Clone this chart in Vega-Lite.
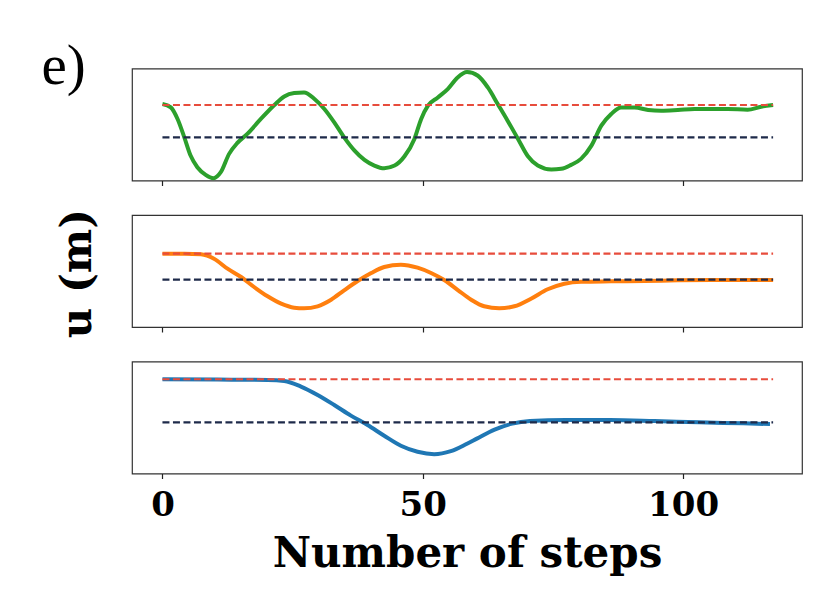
{
  "$schema": "https://vega.github.io/schema/vega-lite/v6.json",
  "background": "white",
  "padding": {"left": 40, "top": 36.5, "right": 30, "bottom": 10},
  "bounds": "flush",
  "spacing": 34.5,
  "config": {
    "view": {"stroke": "#333333", "strokeWidth": 1.2},
    "axis": {"grid": false, "domain": false, "tickColor": "#222222", "tickSize": 5, "tickWidth": 1.2}
  },
  "datasets": {
    "top": [
      {"step": 0, "u": 0.767}, {"step": 1.6, "u": 0.733}, {"step": 2.9, "u": 0.617}, {"step": 4.2, "u": 0.433},
      {"step": 5.4, "u": 0.25}, {"step": 6.7, "u": 0.133}, {"step": 8.3, "u": 0.057}, {"step": 9.8, "u": 0.023},
      {"step": 11.2, "u": 0.083}, {"step": 12.8, "u": 0.267}, {"step": 14.4, "u": 0.377}, {"step": 16.3, "u": 0.467},
      {"step": 18.9, "u": 0.617}, {"step": 21.5, "u": 0.757}, {"step": 23.4, "u": 0.843}, {"step": 25.3, "u": 0.877},
      {"step": 27.2, "u": 0.883}, {"step": 29.2, "u": 0.817}, {"step": 31.1, "u": 0.717}, {"step": 33.0, "u": 0.583},
      {"step": 34.9, "u": 0.433}, {"step": 36.9, "u": 0.3}, {"step": 38.8, "u": 0.207}, {"step": 40.7, "u": 0.15},
      {"step": 42.6, "u": 0.123}, {"step": 44.6, "u": 0.15}, {"step": 46.5, "u": 0.243}, {"step": 48.4, "u": 0.417},
      {"step": 49.7, "u": 0.617}, {"step": 51.0, "u": 0.75}, {"step": 52.9, "u": 0.833}, {"step": 54.8, "u": 0.917},
      {"step": 56.7, "u": 1.033}, {"step": 58.5, "u": 1.087}, {"step": 60.6, "u": 1.05}, {"step": 62.5, "u": 0.933},
      {"step": 64.4, "u": 0.767}, {"step": 66.3, "u": 0.6}, {"step": 68.3, "u": 0.417}, {"step": 70.2, "u": 0.243},
      {"step": 72.1, "u": 0.15}, {"step": 74.7, "u": 0.11}, {"step": 76.6, "u": 0.117}, {"step": 78.5, "u": 0.157},
      {"step": 80.4, "u": 0.217}, {"step": 82.4, "u": 0.35}, {"step": 84.3, "u": 0.55}, {"step": 86.2, "u": 0.667},
      {"step": 88.1, "u": 0.733}, {"step": 90.7, "u": 0.733}, {"step": 93.3, "u": 0.707}, {"step": 95.8, "u": 0.7},
      {"step": 99.0, "u": 0.707}, {"step": 102.2, "u": 0.717}, {"step": 105.4, "u": 0.717}, {"step": 108.6, "u": 0.717},
      {"step": 112.4, "u": 0.71}, {"step": 115.0, "u": 0.74}, {"step": 117.3, "u": 0.757}
    ],
    "mid": [
      {"step": 0, "u": 0.733}, {"step": 4.2, "u": 0.733}, {"step": 7.4, "u": 0.727}, {"step": 9.9, "u": 0.683},
      {"step": 12.5, "u": 0.583}, {"step": 15.1, "u": 0.5}, {"step": 17.6, "u": 0.4}, {"step": 20.2, "u": 0.307},
      {"step": 22.8, "u": 0.233}, {"step": 25.3, "u": 0.193}, {"step": 27.2, "u": 0.187}, {"step": 29.8, "u": 0.207},
      {"step": 32.4, "u": 0.273}, {"step": 34.9, "u": 0.367}, {"step": 37.5, "u": 0.46}, {"step": 40.1, "u": 0.54},
      {"step": 42.6, "u": 0.6}, {"step": 45.8, "u": 0.623}, {"step": 49.0, "u": 0.593}, {"step": 51.6, "u": 0.54},
      {"step": 54.2, "u": 0.467}, {"step": 56.8, "u": 0.367}, {"step": 59.3, "u": 0.273}, {"step": 61.8, "u": 0.207},
      {"step": 64.7, "u": 0.187}, {"step": 67.6, "u": 0.207}, {"step": 70.8, "u": 0.283}, {"step": 74.0, "u": 0.377},
      {"step": 77.2, "u": 0.433}, {"step": 80.4, "u": 0.453}, {"step": 86.2, "u": 0.457}, {"step": 92.6, "u": 0.46},
      {"step": 99.0, "u": 0.467}, {"step": 105.4, "u": 0.47}, {"step": 111.8, "u": 0.47}, {"step": 117.3, "u": 0.47}
    ],
    "bot": [
      {"step": 0, "u": 0.94}, {"step": 10.6, "u": 0.937}, {"step": 20.2, "u": 0.933}, {"step": 23.4, "u": 0.923},
      {"step": 26.6, "u": 0.867}, {"step": 29.8, "u": 0.783}, {"step": 33.0, "u": 0.683}, {"step": 36.2, "u": 0.577},
      {"step": 39.4, "u": 0.483}, {"step": 42.6, "u": 0.377}, {"step": 45.8, "u": 0.277}, {"step": 49.0, "u": 0.217},
      {"step": 52.2, "u": 0.193}, {"step": 55.4, "u": 0.223}, {"step": 58.6, "u": 0.3}, {"step": 60.4, "u": 0.348},
      {"step": 63.8, "u": 0.437}, {"step": 67.2, "u": 0.497}, {"step": 70.6, "u": 0.523}, {"step": 77.5, "u": 0.533},
      {"step": 86.0, "u": 0.533}, {"step": 94.5, "u": 0.523}, {"step": 103.1, "u": 0.51}, {"step": 111.6, "u": 0.5},
      {"step": 116.7, "u": 0.493}
    ],
    "refs": [
      {"panel": "top", "kind": "target", "start": 0, "end": 117.3, "u": 0.757},
      {"panel": "top", "kind": "start", "start": 0, "end": 117.3, "u": 0.433},
      {"panel": "mid", "kind": "target", "start": 0, "end": 117.3, "u": 0.733},
      {"panel": "mid", "kind": "start", "start": 0, "end": 117.3, "u": 0.473},
      {"panel": "bot", "kind": "target", "start": 0, "end": 117.3, "u": 0.94},
      {"panel": "bot", "kind": "start", "start": 0, "end": 117.3, "u": 0.51}
    ]
  },
  "vconcat": [
    {
      "width": 670,
      "height": 112,
      "layer": [
        {
          "data": {"name": "top"},
          "mark": {"type": "line", "color": "#2ca02c", "strokeWidth": 4, "interpolate": "monotone"},
          "encoding": {
            "x": {"field": "step", "type": "quantitative", "scale": {"domain": [-5.85, 122.85], "nice": false, "zero": false},
                  "axis": {"values": [0, 50, 100], "labels": false, "title": null}},
            "y": {"field": "u", "type": "quantitative", "scale": {"domain": [0, 1.123], "nice": false, "zero": false},
                  "axis": {"labels": false, "ticks": false, "title": "e)", "titleAngle": 0, "titleX": -91, "titleY": 15,
                           "titleAlign": "left", "titleBaseline": "alphabetic", "titleFont": "Liberation Serif",
                           "titleFontWeight": "normal", "titleFontSize": 57, "titleColor": "black"}}
          }
        },
        {
          "data": {"name": "refs"},
          "transform": [{"filter": "datum.panel === 'top'"}],
          "mark": {"type": "rule", "strokeDash": [7, 3.5], "strokeWidth": 2.2},
          "encoding": {
            "x": {"field": "start", "type": "quantitative"},
            "x2": {"field": "end"},
            "y": {"field": "u", "type": "quantitative"},
            "color": {"field": "kind", "type": "nominal", "legend": null,
                      "scale": {"domain": ["target", "start"], "range": ["#e74c3c", "#1e2a4a"]}}
          }
        }
      ]
    },
    {
      "width": 670,
      "height": 112,
      "layer": [
        {
          "data": {"name": "mid"},
          "mark": {"type": "line", "color": "#ff7f0e", "strokeWidth": 4, "interpolate": "monotone"},
          "encoding": {
            "x": {"field": "step", "type": "quantitative", "scale": {"domain": [-5.85, 122.85], "nice": false, "zero": false},
                  "axis": {"values": [0, 50, 100], "labels": false, "title": null}},
            "y": {"field": "u", "type": "quantitative", "scale": {"domain": [0, 1.12], "nice": false, "zero": false},
                  "axis": {"labels": false, "ticks": false, "title": "u (m)", "titleAngle": 270, "titleX": -41.5, "titleY": 58,
                           "titleAlign": "center", "titleBaseline": "alphabetic", "titleFont": "DejaVu Serif",
                           "titleFontWeight": "bold", "titleFontSize": 42, "titleColor": "black"}}
          }
        },
        {
          "data": {"name": "refs"},
          "transform": [{"filter": "datum.panel === 'mid'"}],
          "mark": {"type": "rule", "strokeDash": [7, 3.5], "strokeWidth": 2.2},
          "encoding": {
            "x": {"field": "start", "type": "quantitative"},
            "x2": {"field": "end"},
            "y": {"field": "u", "type": "quantitative"},
            "color": {"field": "kind", "type": "nominal", "legend": null,
                      "scale": {"domain": ["target", "start"], "range": ["#e74c3c", "#1e2a4a"]}}
          }
        }
      ]
    },
    {
      "width": 670,
      "height": 112,
      "layer": [
        {
          "data": {"name": "bot"},
          "mark": {"type": "line", "color": "#1f77b4", "strokeWidth": 4, "interpolate": "monotone"},
          "encoding": {
            "x": {"field": "step", "type": "quantitative", "scale": {"domain": [-5.85, 122.85], "nice": false, "zero": false},
                  "axis": {"values": [0, 50, 100], "title": "Number of steps", "labelFont": "DejaVu Serif",
                           "labelFontWeight": "bold", "labelFontSize": 34, "labelColor": "black",
                           "labelBaseline": "alphabetic", "labelPadding": 37, "labelFlush": false,
                           "titleFont": "DejaVu Serif", "titleFontWeight": "bold", "titleFontSize": 42,
                           "titleColor": "black", "titleBaseline": "alphabetic", "titleY": 93}},
            "y": {"field": "u", "type": "quantitative", "scale": {"domain": [0, 1.117], "nice": false, "zero": false},
                  "axis": null}
          }
        },
        {
          "data": {"name": "refs"},
          "transform": [{"filter": "datum.panel === 'bot'"}],
          "mark": {"type": "rule", "strokeDash": [7, 3.5], "strokeWidth": 2.2},
          "encoding": {
            "x": {"field": "start", "type": "quantitative"},
            "x2": {"field": "end"},
            "y": {"field": "u", "type": "quantitative"},
            "color": {"field": "kind", "type": "nominal", "legend": null,
                      "scale": {"domain": ["target", "start"], "range": ["#e74c3c", "#1e2a4a"]}}
          }
        }
      ]
    }
  ]
}
